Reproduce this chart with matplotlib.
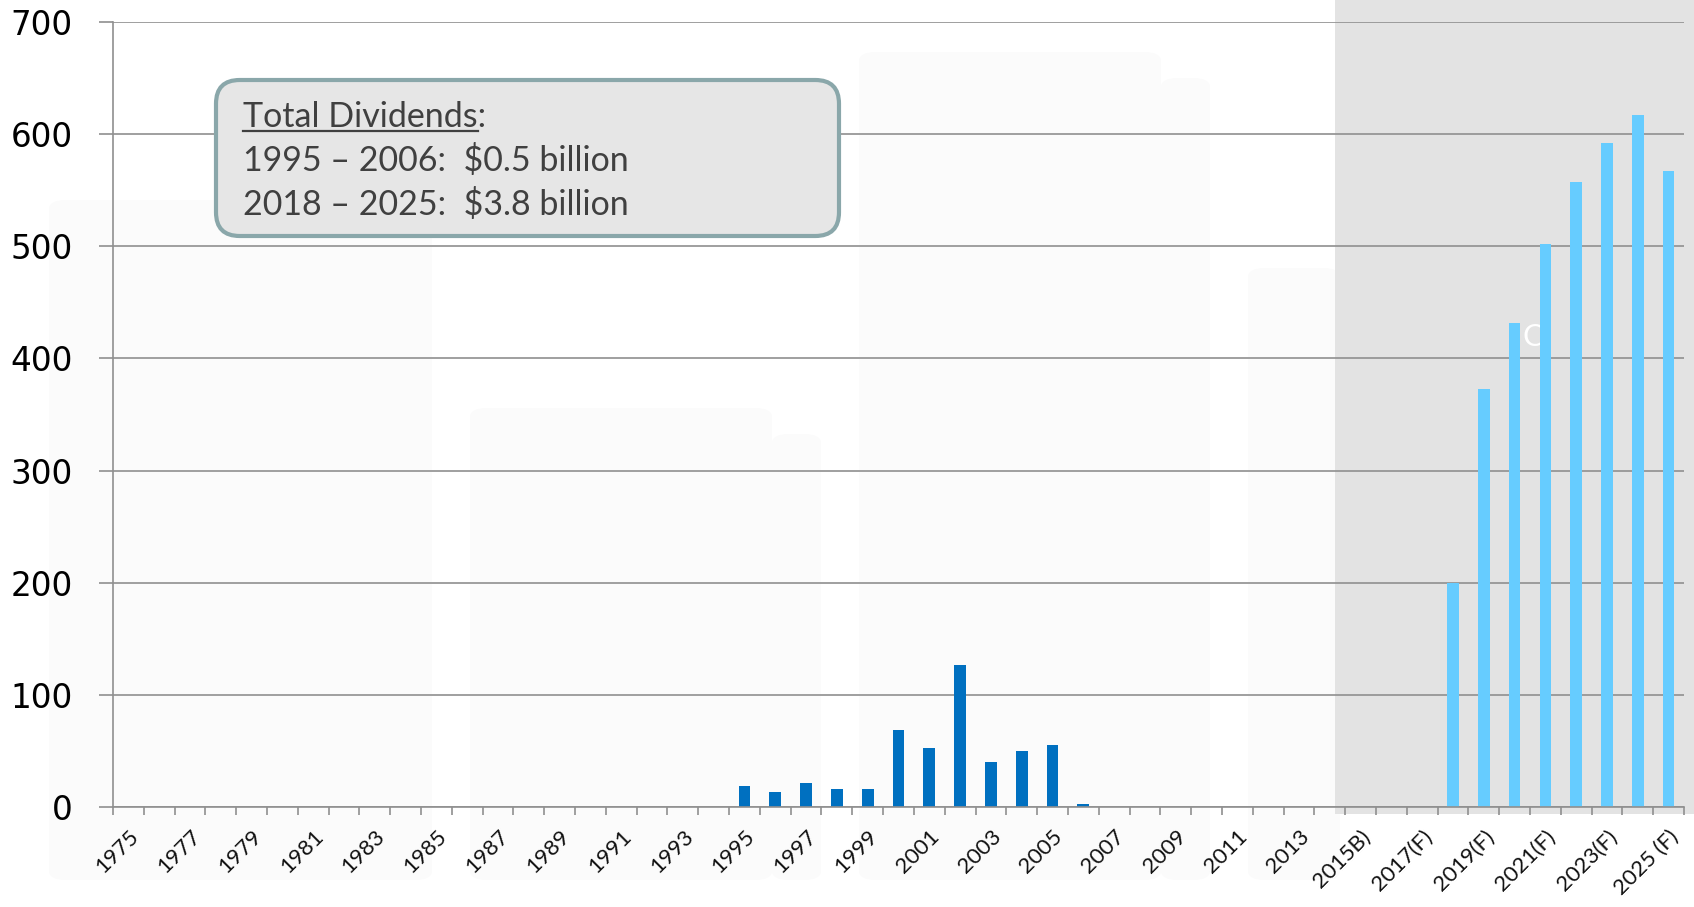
import matplotlib
matplotlib.use("Agg")
import matplotlib.pyplot as plt
from matplotlib.patches import Rectangle, FancyBboxPatch
from matplotlib.transforms import blended_transform_factory, ScaledTranslation
from matplotlib.lines import Line2D

# dividends paid, $ millions
hist_years = list(range(1995, 2007))
hist_values = [19, 13, 21, 16, 16, 69, 53, 127, 40, 50, 55, 3]
fcst_years = list(range(2018, 2026))
fcst_values = [200, 373, 432, 502, 557, 592, 617, 567]

first_year, last_year = 1975, 2025
tick_labels = [str(y) for y in range(1975, 2015, 2)] + [
    "2015B)", "2017(F)", "2019(F)", "2021(F)", "2023(F)", "2025 (F)"]

box_lines = ["1995 – 2006:  $0.5 billion", "2018 – 2025:  $3.8 billion"]

W, H = 1694, 907
fig = plt.figure(figsize=(W / 100, H / 100), dpi=100, facecolor="white")


def px(x, y):
    return x / W, 1 - y / H


# faint slide shapes in the background
for x0, y0, x1, y1 in [(49, 200, 432, 880), (470, 408, 772, 880), (772, 434, 821, 880),
                       (859, 52, 1161, 880), (1161, 78, 1210, 880), (1248, 268, 1340, 880)]:
    fig.patches.append(FancyBboxPatch(px(x0, y1), (x1 - x0) / W, (y1 - y0) / H,
                                      boxstyle="round,pad=0,rounding_size=0.01",
                                      transform=fig.transFigure, fc="#fbfbfb", ec="none",
                                      zorder=-5))

ax = fig.add_axes([113 / W, 1 - 807 / H, (1684 - 113) / W, (807 - 22) / H])
ax.patch.set_visible(False)

n = last_year - first_year + 1
ax.set_xlim(-0.5, n - 0.5)
ax.set_ylim(0, 700)

# shaded forecast region
trans = blended_transform_factory(ax.transData, ax.transAxes)
ax.add_patch(Rectangle((39.18, -0.009), 15, 1.2, transform=trans, fc="#e3e3e3",
                       ec="none", zorder=0.1, clip_on=False))

ax.bar([y - first_year for y in hist_years], hist_values, width=0.38,
       color="#0070c0", zorder=2)
ax.bar([y - first_year for y in fcst_years], fcst_values, width=0.38,
       color="#66ccff", zorder=2)

ax.text(*px(1533, 337), "C", transform=fig.transFigure, color="white", fontsize=22,
        family="Lato", ha="center", va="center", zorder=1.5)

grid_c = "#8f8f8f"
ax.set_yticks(range(0, 701, 100))
ax.yaxis.grid(True, color=grid_c, lw=1.2)
ax.set_axisbelow(True)
ax.tick_params(axis="y", length=10, width=1.2, color=grid_c, pad=19,
               labelsize=23.5, labelcolor="black")

ax.set_xticks(range(0, n, 2))
ax.set_xticklabels(tick_labels, rotation=45, ha="right", rotation_mode="anchor",
                   family="Lato", fontsize=16, color="#111111")
shift = ScaledTranslation(5 / 100, 0, fig.dpi_scale_trans)
for lbl in ax.get_xticklabels():
    lbl.set_transform(lbl.get_transform() + shift)
ax.set_xticks([i - 0.5 for i in range(n + 1)], minor=True)
ax.tick_params(axis="x", which="major", length=0, pad=14)
ax.tick_params(axis="x", which="minor", length=6, width=1.2, color=grid_c)

for s in ["top", "right"]:
    ax.spines[s].set_visible(False)
for s in ["left", "bottom"]:
    ax.spines[s].set_color(grid_c)
    ax.spines[s].set_linewidth(1.2)

# summary box
x0, y0, x1, y1 = 216, 80, 839, 236
fig.patches.append(FancyBboxPatch(px(x0, y1), (x1 - x0) / W, (y1 - y0) / H,
                                  boxstyle="round,pad=0,rounding_size=0.014",
                                  transform=fig.transFigure, fc="#e6e6e6", ec="#8aa7aa",
                                  lw=3, zorder=5, mutation_aspect=W / H))
txt_kw = dict(family="Lato", fontsize=24.5, color="#404040", va="baseline", zorder=6)
fig.text(*px(243, 127), "Total Dividends:", **txt_kw)
for i, line in enumerate(box_lines):
    fig.text(*px(243, 171 + 44 * i), line, **txt_kw)

renderer = fig.canvas.get_renderer()
probe = fig.text(0, 0, "Total Dividends", **txt_kw)
uw = probe.get_window_extent(renderer).width
probe.remove()
fig.lines.append(Line2D([243 / W, (243 + uw) / W], [1 - 131 / H] * 2, transform=fig.transFigure,
                        color="#404040", lw=1.6, zorder=6))

fig.savefig("out.png", dpi=100)
